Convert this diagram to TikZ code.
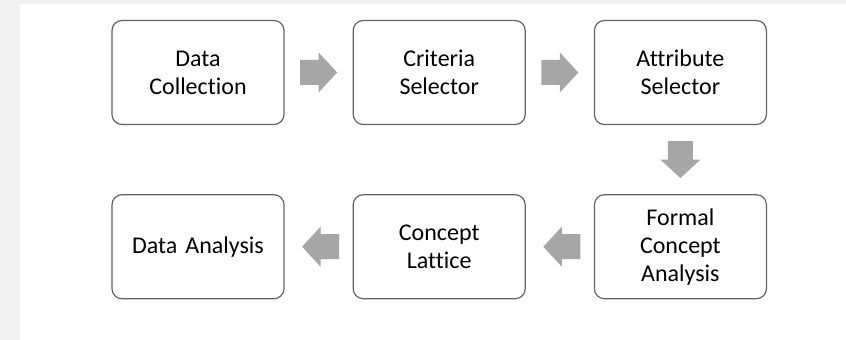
\documentclass[tikz,border=0pt]{standalone}
\usepackage{fontspec}
\setmainfont{Carlito}[Ligatures=NoCommon]
\usepackage{tikz}
\usetikzlibrary{shapes,positioning,calc,backgrounds}
\definecolor{boxline}{RGB}{100,100,100}
\definecolor{blkgray}{RGB}{166,166,166}
\definecolor{edgegray}{RGB}{242,242,242}

\tikzset{
    pics/blockarrow/.style={code={
        \fill[blkgray] (-18.5,-12.5) -- (0,-12.5) -- (0,-20) -- (18.5,0)
            -- (0,20) -- (0,12.5) -- (-18.5,12.5) -- cycle;
    }}
}

\begin{document}
\begin{tikzpicture}[
    x=1pt, y=1pt,
    node distance=69pt and 68pt,
    every node/.style={font=\fontsize{24}{28}\selectfont},
    stage/.style={rectangle, draw=boxline, line width=1.2pt, fill=white,
                  minimum width=172pt, minimum height=104pt,
                  text width=160pt, align=center, rounded corners=10pt}
]

% Page and margins
\fill[edgegray] (0,0) rectangle (846,340);
\fill[white] (20,0) rectangle (846,336);
\useasboundingbox (0,0) rectangle (846,340);

% Stages
\node[stage] at (198,267.5) (dcol) {Data\\Collection};
\node[stage, right=of dcol] (csel) {Criteria\\Selector};
\node[stage, right=of csel] (asel) {Attribute\\Selector};
\node[stage, below=of asel] (fca)  {Formal\\Concept\\Analysis};
\node[stage, left=of fca]   (clat) {Concept\\Lattice};
\node[stage, left=of clat]  (dana) {Data Analysis};

% Block arrows between stages
\pic at ($(dcol.east)!0.5!(csel.west)$) {blockarrow};
\pic at ($(csel.east)!0.5!(asel.west)$) {blockarrow};
\pic[rotate=-90] at ($(asel.south)!0.5!(fca.north)$) {blockarrow};
\pic[rotate=180] at ($(fca.west)!0.5!(clat.east)+(2,0)$) {blockarrow};
\pic[rotate=180] at ($(clat.west)!0.5!(dana.east)+(2,0)$) {blockarrow};

\end{tikzpicture}
\end{document}
